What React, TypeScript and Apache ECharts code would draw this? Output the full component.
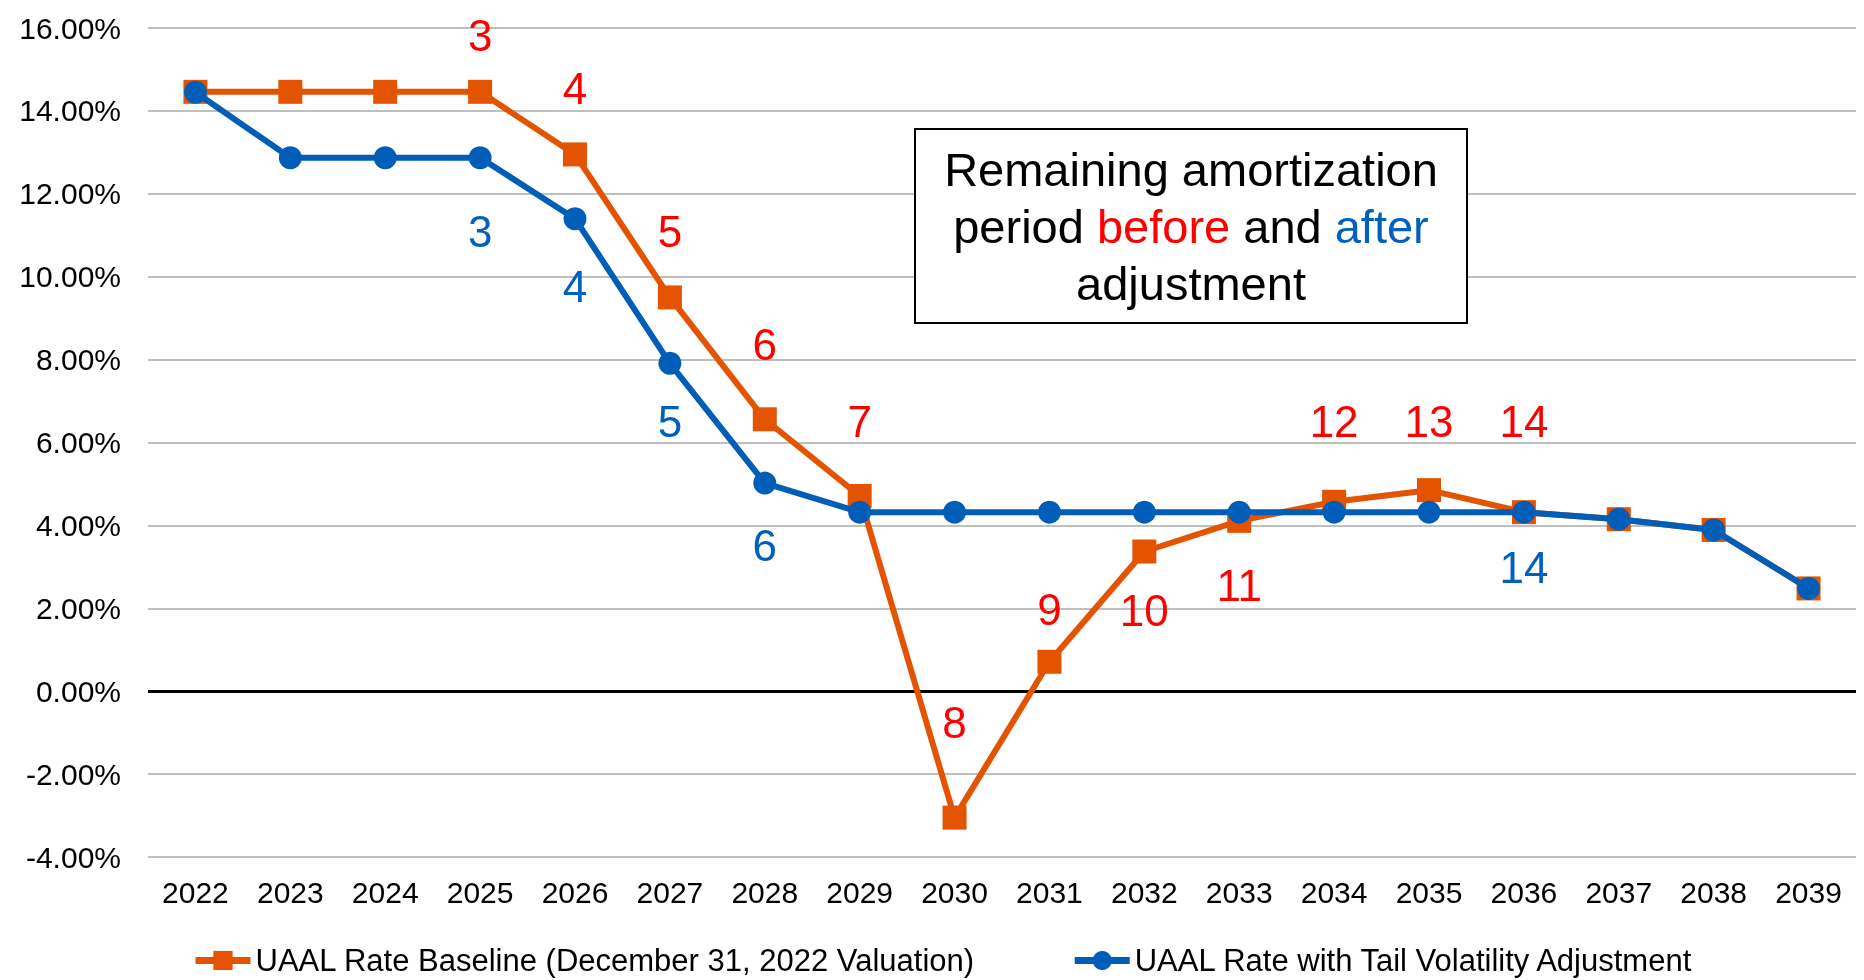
import React, { useEffect, useRef } from "react";
import * as echarts from "echarts";

const years = ["2022","2023","2024","2025","2026","2027","2028","2029","2030","2031","2032","2033","2034","2035","2036","2037","2038","2039"];
const baseline = [14.46, 14.46, 14.46, 14.46, 12.95, 9.5, 6.56, 4.71, -3.05, 0.71, 3.37, 4.11, 4.57, 4.85, 4.32, 4.15, 3.89, 2.48];
const adjusted = [14.45, 12.87, 12.87, 12.87, 11.4, 7.91, 5.02, 4.32, 4.32, 4.32, 4.32, 4.32, 4.32, 4.32, 4.32, 4.15, 3.89, 2.48];

// remaining amortization period labels: [year, y position (%), text]
const beforeLabels: [string, number, string][] = [
  ["2025", 15.83, "3"], ["2026", 14.55, "4"], ["2027", 11.1, "5"], ["2028", 8.37, "6"],
  ["2029", 6.51, "7"], ["2030", -0.75, "8"], ["2031", 1.98, "9"], ["2032", 1.95, "10"],
  ["2033", 2.56, "11"], ["2034", 6.51, "12"], ["2035", 6.51, "13"], ["2036", 6.51, "14"],
];
const afterLabels: [string, number, string][] = [
  ["2025", 11.1, "3"], ["2026", 9.77, "4"], ["2027", 6.51, "5"], ["2028", 3.52, "6"], ["2036", 2.99, "14"],
];

const ORANGE = "#E35300";
const BLUE = "#005EB8";
const FONT = "'Liberation Sans', Arial, sans-serif";

export default function App() {
  const ref = useRef<HTMLDivElement>(null);
  useEffect(() => {
    const chart = echarts.init(ref.current!, null, { renderer: "svg" });
    const labelSeries = (name: string, data: [string, number, string][], color: string) => ({
      name,
      type: "scatter",
      data,
      symbolSize: 0,
      silent: true,
      z: 5,
      itemStyle: { opacity: 1 },
      label: {
        show: true,
        position: "inside",
        formatter: (p: any) => p.value[2],
        color,
        opacity: 1,
        fontSize: 44,
        fontFamily: FONT,
      },
    });
    chart.setOption({
      animation: false,
      textStyle: { fontFamily: FONT },
      grid: { left: 148, right: 8, top: 28, bottom: 123 },
      legend: {
        data: ["UAAL Rate Baseline (December 31, 2022 Valuation)", "UAAL Rate with Tail Volatility Adjustment"],
        left: 187,
        top: 940,
        itemWidth: 55,
        itemHeight: 24,
        itemGap: 96,
        lineStyle: { width: 7 },
        textStyle: { fontSize: 31, color: "#000", fontFamily: FONT },
      },
      xAxis: {
        type: "category",
        data: years,
        axisLine: { show: false },
        axisTick: { show: false },
        axisLabel: { fontSize: 30, color: "#000", margin: 20, fontFamily: FONT },
      },
      yAxis: {
        type: "value",
        min: -4,
        max: 16,
        interval: 2,
        axisLine: { show: false },
        axisTick: { show: false },
        axisLabel: {
          fontSize: 30,
          color: "#000",
          margin: 27,
          fontFamily: FONT,
          formatter: (v: number) => v.toFixed(2) + "%",
        },
        splitLine: { lineStyle: { color: "#BFBFBF", width: 2 } },
      },
      graphic: [
        {
          type: "rect",
          shape: { x: 915, y: 129, width: 552, height: 194 },
          style: { fill: "#fff", stroke: "#000", lineWidth: 2 },
          z: 10,
        },
        {
          type: "text",
          x: 1191,
          y: 226,
          z: 11,
          style: {
            text: "{k|Remaining amortization}\n{k|period }{r|before}{k| and }{b|after}\n{k|adjustment}",
            align: "center",
            verticalAlign: "middle",
            rich: {
              k: { fontSize: 47, lineHeight: 57, fill: "#000", fontFamily: FONT },
              r: { fontSize: 47, lineHeight: 57, fill: "#FF0000", fontFamily: FONT },
              b: { fontSize: 47, lineHeight: 57, fill: "#0060C0", fontFamily: FONT },
            },
          },
        },
      ],
      series: [
        {
          name: "UAAL Rate Baseline (December 31, 2022 Valuation)",
          type: "line",
          data: baseline,
          symbol: "rect",
          symbolSize: 24,
          itemStyle: { color: ORANGE },
          lineStyle: { color: ORANGE, width: 6 },
          z: 3,
          markLine: {
            silent: true,
            symbol: "none",
            label: { show: false },
            lineStyle: { color: "#000", width: 3, type: "solid" },
            data: [{ yAxis: 0 }],
            z: 1,
          },
        },
        {
          name: "UAAL Rate with Tail Volatility Adjustment",
          type: "line",
          data: adjusted,
          symbol: "circle",
          symbolSize: 23,
          itemStyle: { color: BLUE },
          lineStyle: { color: BLUE, width: 6 },
          z: 4,
        },
        labelSeries("before", beforeLabels, "#FF0000"),
        labelSeries("after", afterLabels, "#0060C0"),
      ],
    });
    return () => chart.dispose();
  }, []);
  return <div ref={ref} style={{ position: "fixed", left: 0, top: 0, width: 1864, height: 980 }} />;
}
